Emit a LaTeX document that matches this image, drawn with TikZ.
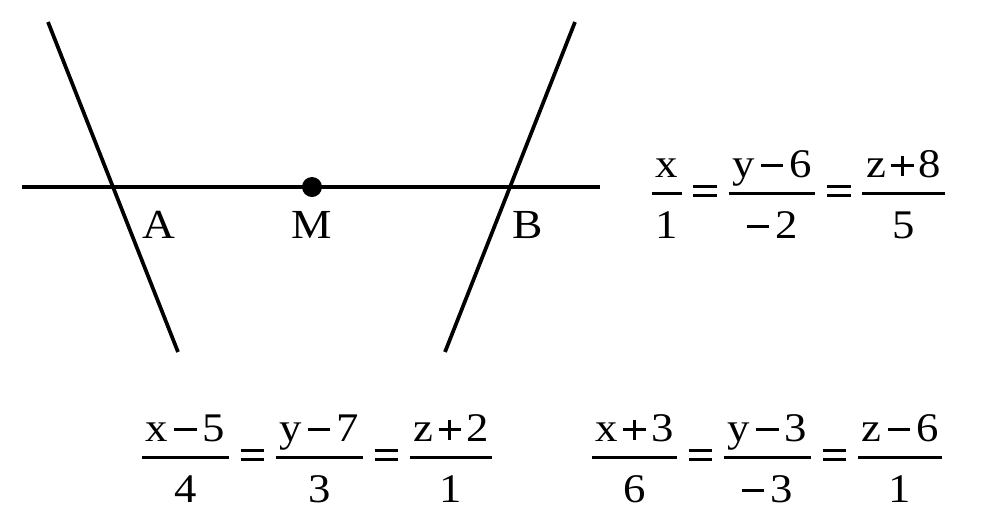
\documentclass[tikz,border=0pt]{standalone}
\usepackage{fontspec}
\setmainfont{Liberation Serif}
\usepackage{amsmath}
\newcommand\mmi{\hspace{0.14em}\rule[0.245em]{0.5em}{0.07em}\hspace{0.14em}}
\newcommand\mpl{\hspace{0.12em}\rlap{\rule[0.245em]{0.5em}{0.07em}}\hspace{0.215em}\rule[0.03em]{0.07em}{0.5em}\hspace{0.215em}\hspace{0.12em}}
\newcommand\meq{\mathrel{\rlap{\rule[0.12em]{0.52em}{0.07em}}\rule[0.34em]{0.52em}{0.07em}}}
\newcommand\fr[2]{\genfrac{}{}{2.25pt}{0}{\rule[-4.5pt]{0pt}{0pt}\hspace{0.08em}\smash[b]{\text{#1}}\hspace{0.08em}}{\rule{0pt}{25.5pt}\hspace{0.08em}\text{#2}\hspace{0.08em}}}
\newcommand\wide[1]{\scalebox{1.1}[1]{#1}}
\tikzset{
  ln/.style={line width=2.8pt},
  lab/.style={font=\fontsize{31}{37}\selectfont, inner sep=0pt, anchor=base},
  eq/.style={font=\fontsize{30.5}{36}\selectfont, inner sep=0pt, anchor=base west}
}
\begin{document}
\begin{tikzpicture}[x=0.75pt,y=-0.75pt]
\useasboundingbox (0,0) rectangle (1000,522);
\coordinate (H1) at (22,187);
\coordinate (H2) at (600,187);
\coordinate (P1) at (48,22);
\coordinate (P2) at (178,352);
\coordinate (Q1) at (575,22);
\coordinate (Q2) at (445,352);
\coordinate (M) at (312,187);
\draw[ln] (H1) -- (H2);
\draw[ln] (P1) -- (P2);
\draw[ln] (Q1) -- (Q2);
\fill (M) circle[radius=7.5pt];
\node[lab] (A) at (159,238) {\scalebox{1.1}[1]{A}};
\node[lab] (Mlab) at (312,238) {\scalebox{1.1}[1]{M}};
\node[lab] (B) at (528,238) {\scalebox{1.1}[1]{B}};
\node[eq] (e1) at (650,202) {\wide{$\displaystyle \fr{x}{1}\meq\fr{y\mmi 6}{\rule[0.245em]{0.5em}{0.07em}\hspace{0.14em}2}\meq\fr{z\mpl 8}{5}$}};
\node[eq] (e2) at (140,466) {\wide{$\displaystyle \fr{x\mmi 5}{4}\meq\fr{y\mmi 7}{3}\meq\fr{z\mpl 2}{1}$}};
\node[eq] (e3) at (590,466) {\wide{$\displaystyle \fr{x\mpl 3}{6}\meq\fr{y\mmi 3}{\rule[0.245em]{0.5em}{0.07em}\hspace{0.14em}3}\meq\fr{z\mmi 6}{1}$}};
\end{tikzpicture}
\end{document}
